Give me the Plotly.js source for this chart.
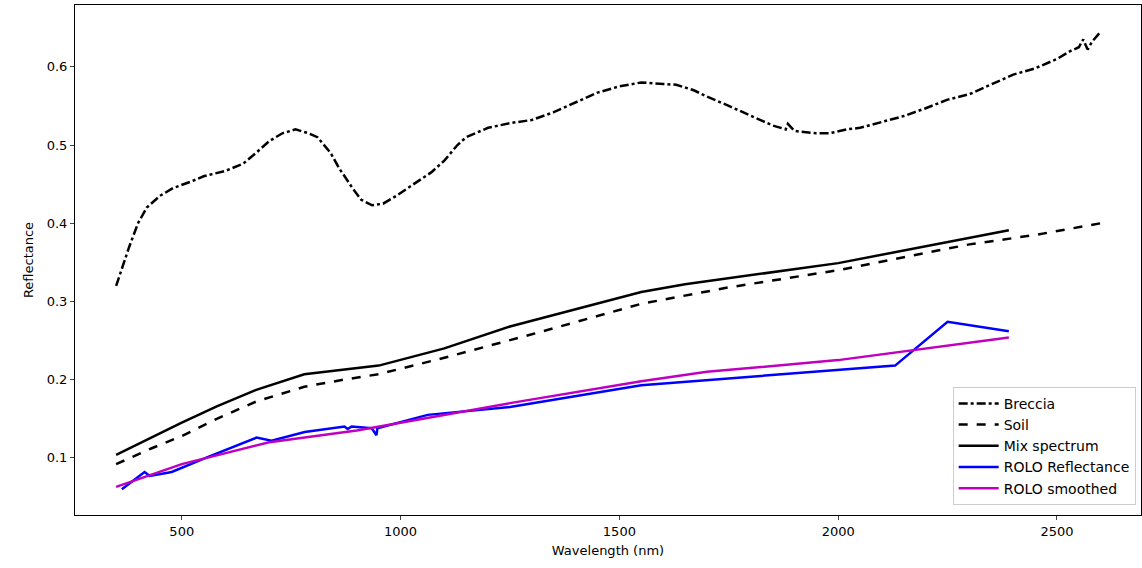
<!DOCTYPE html>
<html>
<head>
<script src="https://cdn.plot.ly/plotly-3.0.1.min.js"></script>
<style>body{margin:0}#chart{width:1142px;height:568px}</style>
</head>
<body>
<div id="chart"></div>
<script>
const brecciaX = [350, 365, 380, 400, 420, 450, 480, 520, 550, 600, 640, 670, 700, 730, 760, 790, 810, 840, 860, 890, 910, 935, 960, 990, 1030, 1070, 1100, 1130, 1150, 1200, 1250, 1300, 1350, 1400, 1450, 1500, 1550, 1600, 1630, 1670, 1700, 1750, 1800, 1850, 1880, 1885, 1900, 1950, 1980, 2020, 2050, 2100, 2150, 2200, 2250, 2300, 2350, 2400, 2450, 2500, 2530, 2550, 2560, 2570, 2580, 2600];
const brecciaY = [0.32, 0.345, 0.37, 0.40, 0.42, 0.435, 0.445, 0.453, 0.46, 0.467, 0.476, 0.49, 0.505, 0.515, 0.52, 0.515, 0.51, 0.49, 0.47, 0.445, 0.43, 0.423, 0.425, 0.435, 0.45, 0.465, 0.48, 0.5, 0.51, 0.522, 0.528, 0.532, 0.542, 0.555, 0.567, 0.575, 0.58, 0.578, 0.577, 0.57, 0.562, 0.55, 0.538, 0.525, 0.52, 0.527, 0.518, 0.515, 0.515, 0.52, 0.522, 0.53, 0.537, 0.547, 0.558, 0.565, 0.577, 0.59, 0.598, 0.61, 0.62, 0.625, 0.635, 0.622, 0.632, 0.645];
const soilX = [350, 430, 500, 580, 670, 780, 870, 950, 1100, 1300, 1550, 1750, 2000, 2300, 2450, 2600];
const soilY = [0.092, 0.112, 0.128, 0.15, 0.172, 0.191, 0.2, 0.207, 0.228, 0.258, 0.297, 0.318, 0.34, 0.373, 0.385, 0.4];
const mixX = [350, 430, 500, 580, 670, 780, 870, 950, 1100, 1250, 1550, 1650, 2000, 2390];
const mixY = [0.104, 0.126, 0.145, 0.166, 0.187, 0.207, 0.213, 0.218, 0.24, 0.268, 0.312, 0.322, 0.349, 0.391];
const roloX = [363, 415, 427, 477, 559, 671, 705, 781, 872, 879, 888, 934, 945, 947, 1062, 1250, 1550, 2130, 2250, 2390];
const roloY = [0.06, 0.082, 0.077, 0.082, 0.101, 0.126, 0.122, 0.133, 0.14, 0.137, 0.14, 0.138, 0.129, 0.138, 0.155, 0.165, 0.193, 0.218, 0.274, 0.262];
const smoothX = [350, 500, 700, 900, 1000, 1250, 1550, 1700, 2000, 2390];
const smoothY = [0.063, 0.092, 0.12, 0.135, 0.145, 0.17, 0.198, 0.21, 0.225, 0.254];

const traces = [
  {x: brecciaX, y: brecciaY, name: 'Breccia', mode: 'lines', line: {color: 'black', width: 2.5, dash: 'dashdot'}},
  {x: soilX, y: soilY, name: 'Soil', mode: 'lines', line: {color: 'black', width: 2.5, dash: 'dash'}},
  {x: mixX, y: mixY, name: 'Mix spectrum', mode: 'lines', line: {color: 'black', width: 2.5}},
  {x: roloX, y: roloY, name: 'ROLO Reflectance', mode: 'lines', line: {color: '#0000ff', width: 2.5}},
  {x: smoothX, y: smoothY, name: 'ROLO smoothed', mode: 'lines', line: {color: '#bf00bf', width: 2.5}},
];

Plotly.newPlot('chart', traces, {
  width: 1142,
  height: 568,
  margin: {l: 75, r: 1, t: 5, b: 53},
  font: {family: 'DejaVu Sans', size: 13, color: 'black'},
  plot_bgcolor: 'white',
  paper_bgcolor: 'white',
  xaxis: {
    range: [256, 2692],
    tickvals: [500, 1000, 1500, 2000, 2500],
    showgrid: false, zeroline: false,
    showline: true, mirror: true, linecolor: 'black', linewidth: 1,
    ticks: 'outside', ticklen: 4,
    title: {text: 'Wavelength (nm)', standoff: 8, font: {size: 13}},
  },
  yaxis: {
    range: [0.027, 0.679],
    tickvals: [0.1, 0.2, 0.3, 0.4, 0.5, 0.6],
    tickformat: '.1f',
    showgrid: false, zeroline: false,
    showline: true, mirror: true, linecolor: 'black', linewidth: 1,
    ticks: 'outside', ticklen: 4,
    title: {text: 'Reflectance', standoff: 10, font: {size: 13}},
  },
  legend: {
    x: 0.995, y: 0.02, xanchor: 'right', yanchor: 'bottom',
    bordercolor: '#cccccc', borderwidth: 1, bgcolor: 'rgba(255,255,255,0.8)',
    font: {size: 14}, tracegroupgap: 0, itemwidth: 40,
  },
}, {displayModeBar: false});
</script>
</body>
</html>
